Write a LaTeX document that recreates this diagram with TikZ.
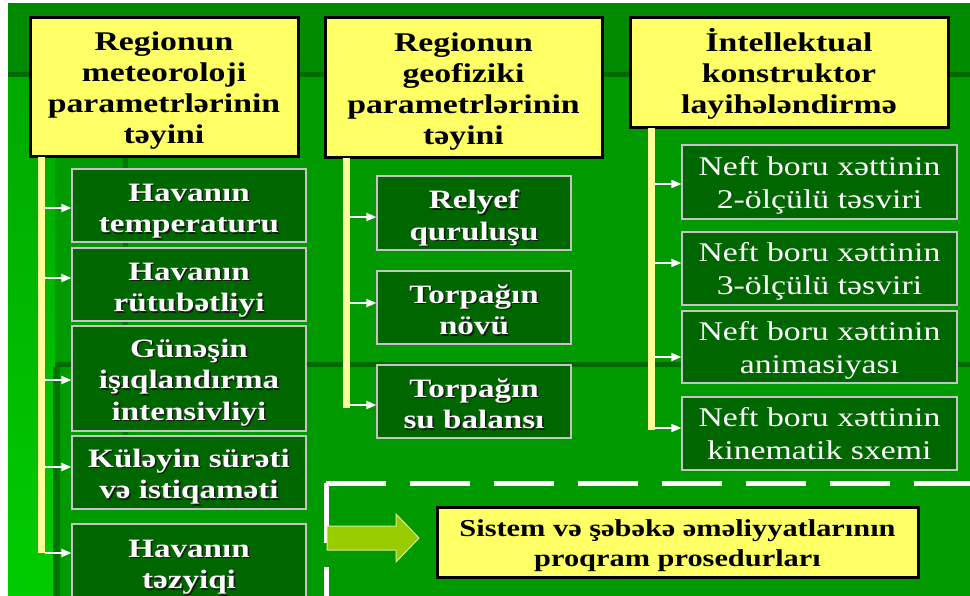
\documentclass[tikz,border=0pt]{standalone}
\usepackage{fontspec}
\setmainfont{Liberation Serif}[FakeStretch=1.25]
\usetikzlibrary{arrows.meta}

\definecolor{bgtop}{HTML}{008A00}
\definecolor{bgmid}{HTML}{009A00}
\definecolor{bgline}{HTML}{006A00}
\definecolor{bgleftA}{HTML}{00A800}
\definecolor{bgleftB}{HTML}{00CC00}
\definecolor{headyellow}{HTML}{FFFF66}
\definecolor{baryellow}{HTML}{FFFF99}
\definecolor{boxgreen}{HTML}{006600}
\definecolor{boxedge}{HTML}{C4C4C4}
\definecolor{textshadow}{HTML}{1A1A1A}
\definecolor{bigarrow}{HTML}{99CC00}

% white bold text with a small dark drop shadow
\newcommand\sht[1]{\leavevmode\rlap{\kern1.6pt\raisebox{-1.6pt}{\textcolor{textshadow}{#1}}}#1}
% centred block of lines, shifted down (or up) within its box
\newcommand\lowered[2][4pt]{\raisebox{-#1}[\height][\depth]{%
  \begin{tabular}{@{}c@{}}#2\end{tabular}}}

\tikzset{
  headbox/.style={draw=black, line width=3pt, fill=headyellow, inner sep=0pt,
    font=\bfseries\fontsize{27}{31}\selectfont},
  itembox/.style={draw=boxedge, line width=1.2pt, fill=boxgreen, text=white,
    inner sep=0pt, font=\bfseries\fontsize{26.5}{31.5}\selectfont},
  plainbox/.style={itembox, font=\fontsize{27}{33}\selectfont},
  railbar/.style={fill=baryellow, inner sep=0pt, minimum width=7pt},
  feed/.style={draw=white, line width=2pt, -{Triangle[length=10pt,width=8pt]}},
  thinfeed/.style={feed, line width=1.5pt},
}

\begin{document}
\begin{tikzpicture}[x=1pt,y=-1pt]
\useasboundingbox (0,0) rectangle (970,596);
\clip (0,0) rectangle (970,596);

% slide background
\fill[white] (0,0) rectangle (970,596);
\fill[bgmid] (8,3) rectangle (970,596);
\fill[bgtop] (8,3) rectangle (970,74);
\shade[top color=bgleftA, bottom color=bgleftB] (8,77) rectangle (55,596);
\fill[bgline] (8,72) rectangle (970,77);
\fill[bgline] (55,362) rectangle (970,367);
\fill[bgline!80!bgmid] (53,367) rectangle (60,596);
\fill[bgline!80!bgmid] (123,158) rectangle (128,440);

% heading boxes
\node[headbox, minimum width=268pt, minimum height=139pt] (h1) at (164,87.5)
  {\lowered[3.5pt]{Regionun\\meteoroloji\\parametrlərinin\\təyini}};
\node[headbox, minimum width=277pt, minimum height=140pt] (h2) at (463.5,88)
  {\lowered[3.5pt]{Regionun\\geofiziki\\parametrlərinin\\təyini}};
\node[headbox, minimum width=318pt, minimum height=110pt] (h3) at (789,73)
  {\lowered[2.5pt]{İntellektual\\konstruktor\\layihələndirmə}};

% vertical rails under the headings
\node[railbar, minimum height=396pt, anchor=north] (bar1) at (41.5,157) {};
\node[railbar, minimum height=250pt, anchor=north] (bar2) at (346.5,158) {};
\node[railbar, minimum height=302pt, anchor=north] (bar3) at (651.5,128) {};

% meteorological parameters
\node[itembox, minimum width=234pt, minimum height=73pt] (a1) at (189,205.5)
  {\lowered[5pt]{\sht{Havanın}\\\sht{temperaturu}}};
\node[itembox, minimum width=234pt, minimum height=73pt] (a2) at (189,284.5)
  {\lowered[5pt]{\sht{Havanın}\\\sht{rütubətliyi}}};
\node[itembox, minimum width=234pt, minimum height=105pt] (a3) at (189,378.5)
  {\lowered[4pt]{\sht{Günəşin}\\\sht{işıqlandırma}\\\sht{intensivliyi}}};
\node[itembox, minimum width=234pt, minimum height=73pt] (a4) at (189,472.5)
  {\lowered[4pt]{\sht{Küləyin sürəti}\\\sht{və istiqaməti}}};
\node[itembox, minimum width=234pt, minimum height=88pt] (a5) at (189,568)
  {\lowered[-1.5pt]{\sht{Havanın}\\\sht{təzyiqi}}};

% geophysical parameters
\node[itembox, minimum width=194pt, minimum height=74pt] (b1) at (474,213)
  {\lowered[5pt]{\sht{Relyef}\\\sht{quruluşu}}};
\node[itembox, minimum width=194pt, minimum height=73pt] (b2) at (474,307.5)
  {\lowered[5pt]{\sht{Torpağın}\\\sht{növü}}};
\node[itembox, minimum width=194pt, minimum height=73pt] (b3) at (474,401.5)
  {\lowered[5pt]{\sht{Torpağın}\\\sht{su balansı}}};

% intelligent design outputs
\node[plainbox, minimum width=275pt, minimum height=74pt] (c1) at (819.5,182)
  {\lowered[3pt]{Neft boru xəttinin\\2-ölçülü təsviri}};
\node[plainbox, minimum width=275pt, minimum height=73pt] (c2) at (819.5,268.5)
  {\lowered[3pt]{Neft boru xəttinin\\3-ölçülü təsviri}};
\node[plainbox, minimum width=275pt, minimum height=72pt] (c3) at (819.5,347)
  {\lowered[3pt]{Neft boru xəttinin\\animasiyası}};
\node[plainbox, minimum width=275pt, minimum height=73pt] (c4) at (819.5,433.5)
  {\lowered[3pt]{Neft boru xəttinin\\kinematik sxemi}};

% arrow targets on the box edges
\coordinate (ta1) at ([yshift=-2.5pt]a1.west);
\coordinate (ta2) at ([yshift=6.5pt]a2.west);
\coordinate (ta3) at ([yshift=-1.5pt]a3.west);
\coordinate (ta4) at ([yshift=5.5pt]a4.west);
\coordinate (ta5) at ([yshift=15pt]a5.west);
\coordinate (tb1) at ([yshift=-4pt]b1.west);
\coordinate (tb2) at ([yshift=4.5pt]b2.west);
\coordinate (tb3) at ([yshift=-3.5pt]b3.west);
\coordinate (tc1) at ([yshift=-2pt]c1.west);
\coordinate (tc2) at ([yshift=5.5pt]c2.west);
\coordinate (tc3) at ([yshift=-10pt]c3.west);
\coordinate (tc4) at ([yshift=5.5pt]c4.west);

\foreach \t in {ta1,ta2,ta3,ta4,ta5}
  \draw[feed] (bar1.east |- \t) -- (\t);
\foreach \t in {tb1,tb2,tb3}
  \draw[feed] (bar2.east |- \t) -- (\t);
\foreach \t in {tc1,tc2,tc3,tc4}
  \draw[thinfeed] (bar3.east |- \t) -- (\t);

% dashed frame around the system procedures
\coordinate (corner) at (326,483);
\coordinate (frameE) at (970,483);
\coordinate (frameS) at (326,600);
\draw[white, line width=5pt, dash pattern=on 60pt off 24pt] (corner) -- (frameE);
\draw[white, line width=5pt, dash pattern=on 60pt off 24pt] (corner) -- (frameS);

% system procedures box and the block arrow pointing at it
\node[headbox, minimum width=481pt, minimum height=70pt,
  font=\bfseries\fontsize{24.3}{30}\selectfont] (sys) at (677.5,542)
  {\lowered[3pt]{Sistem və şəbəkə əməliyyatlarının\\proqram prosedurları}};
\fill[bigarrow, draw=white!60!bigarrow, line width=1pt]
  (327,526) -- (396,526) -- (396,514) -- (419,538) -- (396,562) -- (396,550)
  -- (327,550) -- cycle;
\end{tikzpicture}
\end{document}
